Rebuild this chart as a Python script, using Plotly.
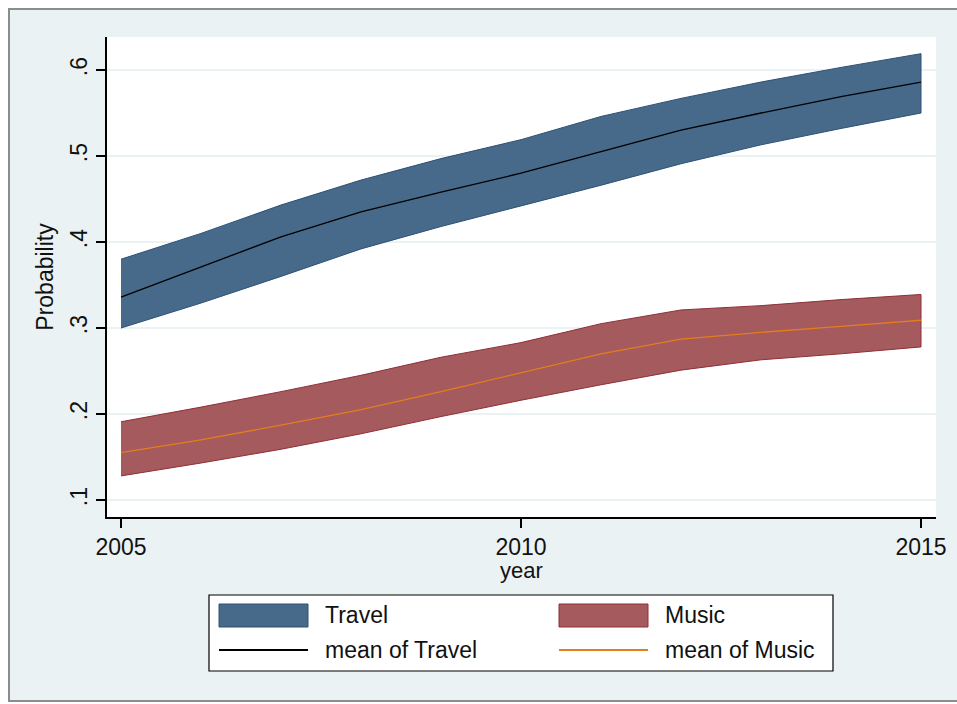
import plotly.graph_objects as go

years = [2005, 2006, 2007, 2008, 2009, 2010, 2011, 2012, 2013, 2014, 2015]

travel_upper = [0.380, 0.410, 0.443, 0.472, 0.497, 0.519, 0.546, 0.567, 0.586, 0.603, 0.619]
travel_mean  = [0.336, 0.371, 0.406, 0.435, 0.458, 0.480, 0.505, 0.530, 0.550, 0.569, 0.586]
travel_lower = [0.300, 0.329, 0.360, 0.392, 0.418, 0.442, 0.466, 0.491, 0.513, 0.532, 0.550]

music_upper = [0.191, 0.208, 0.226, 0.245, 0.266, 0.283, 0.305, 0.321, 0.326, 0.333, 0.339]
music_mean  = [0.155, 0.170, 0.187, 0.205, 0.226, 0.248, 0.270, 0.287, 0.295, 0.302, 0.309]
music_lower = [0.128, 0.143, 0.159, 0.177, 0.197, 0.216, 0.234, 0.251, 0.263, 0.270, 0.278]

y_tickvals = [0.1, 0.2, 0.3, 0.4, 0.5, 0.6]
y_ticktext = [".1", ".2", ".3", ".4", ".5", ".6"]
x_tickvals = [2005, 2010, 2015]

series_names = ["Travel", "Music", "mean of Travel", "mean of Music"]
x_title = "year"
y_title = "Probability"

TRAVEL_FILL = "#486A8A"
TRAVEL_EDGE = "#2C5074"
MUSIC_FILL = "#A55A5E"
MUSIC_EDGE = "#8E2F38"
TRAVEL_LINE = "#000000"
MUSIC_LINE = "#E47D1C"
BG = "#EAF2F3"
FONT = "Liberation Sans, Arial, sans-serif"

fig = go.Figure()

fig.add_trace(go.Scatter(
    x=years + years[::-1], y=travel_upper + travel_lower[::-1],
    fill="toself", fillcolor=TRAVEL_FILL, mode="lines",
    line=dict(color=TRAVEL_EDGE, width=1), name=series_names[0],
    showlegend=False, hoverinfo="skip"))
fig.add_trace(go.Scatter(
    x=years + years[::-1], y=music_upper + music_lower[::-1],
    fill="toself", fillcolor=MUSIC_FILL, mode="lines",
    line=dict(color=MUSIC_EDGE, width=1), name=series_names[1],
    showlegend=False, hoverinfo="skip"))
fig.add_trace(go.Scatter(
    x=years, y=travel_mean, mode="lines", name=series_names[2],
    line=dict(color=TRAVEL_LINE, width=1.3), showlegend=False))
fig.add_trace(go.Scatter(
    x=years, y=music_mean, mode="lines", name=series_names[3],
    line=dict(color=MUSIC_LINE, width=1.3), showlegend=False))

# plot-area pixel geometry
W, H = 957, 704
L, R, T, B = 107, 936, 37, 517
pw, ph = R - L, B - T

def px(x):
    return (x - L) / pw

def py(y):
    return (B - y) / ph

shapes = []
annotations = []

# outer frame (white margin outside a grey border)
shapes.append(dict(type="rect", xref="paper", yref="paper", x0=px(-2), x1=px(8), y0=py(-2), y1=py(706),
                   fillcolor="white", line=dict(width=0), layer="above"))
shapes.append(dict(type="rect", xref="paper", yref="paper", x0=px(-2), x1=px(962), y0=py(-2), y1=py(8),
                   fillcolor="white", line=dict(width=0), layer="above"))
shapes.append(dict(type="rect", xref="paper", yref="paper", x0=px(-2), x1=px(962), y0=py(702), y1=py(706),
                   fillcolor="white", line=dict(width=0), layer="above"))
shapes.append(dict(type="rect", xref="paper", yref="paper", x0=px(9), x1=px(966), y0=py(701), y1=py(9),
                   fillcolor="rgba(0,0,0,0)", line=dict(color="#8C8C8C", width=2), layer="above"))

# legend box
shapes.append(dict(type="rect", xref="paper", yref="paper", x0=px(209), x1=px(833), y0=py(671), y1=py(595),
                   fillcolor="white", line=dict(color="black", width=1.2), layer="above"))
legend_items = [
    (series_names[0], "box", TRAVEL_FILL, TRAVEL_EDGE, 219, 615),
    (series_names[1], "box", MUSIC_FILL, MUSIC_EDGE, 559, 615),
    (series_names[2], "line", TRAVEL_LINE, None, 219, 650),
    (series_names[3], "line", MUSIC_LINE, None, 559, 650),
]
for name, kind, col, edge, x0, yc in legend_items:
    if kind == "box":
        shapes.append(dict(type="rect", xref="paper", yref="paper", x0=px(x0), x1=px(x0 + 89),
                           y0=py(yc + 12), y1=py(yc - 11), fillcolor=col,
                           line=dict(color=edge, width=1), layer="above"))
    else:
        shapes.append(dict(type="line", xref="paper", yref="paper", x0=px(x0), x1=px(x0 + 89),
                           y0=py(yc), y1=py(yc), line=dict(color=col, width=2), layer="above"))
    annotations.append(dict(text=name, xref="paper", yref="paper", x=px(x0 + 104), y=py(yc),
                            xanchor="left", yanchor="middle", showarrow=False,
                            font=dict(family=FONT, size=23, color="#111111")))

# x-axis title placed just below the tick labels
annotations.append(dict(text=x_title, xref="paper", yref="paper", x=0.5, y=py(556),
                        xanchor="center", yanchor="top", showarrow=False,
                        font=dict(family=FONT, size=22, color="#111111")))

fig.update_layout(
    width=W, height=H,
    margin=dict(l=L, r=W - R, t=T, b=H - B, pad=0),
    paper_bgcolor=BG, plot_bgcolor="white",
    font=dict(family=FONT, size=23, color="#111111"),
    showlegend=False,
    shapes=shapes, annotations=annotations,
    xaxis=dict(
        range=[2005 - 14 / 80, 2015 + 15 / 80],
        tickvals=x_tickvals, ticktext=[str(v) for v in x_tickvals],
        ticks="outside", ticklen=9, tickwidth=1.5, tickcolor="black",
        showline=True, linecolor="black", linewidth=1.5,
        showgrid=False, zeroline=False, automargin=False,
        tickfont=dict(size=23),
    ),
    yaxis=dict(
        range=[0.1 - 17 / 860, 0.1 + 463 / 860],
        tickvals=y_tickvals, ticktext=y_ticktext, tickangle=-90,
        ticks="outside", ticklen=9, tickwidth=1.5, tickcolor="black",
        showline=True, linecolor="black", linewidth=1.5,
        showgrid=True, gridcolor=BG, gridwidth=1.5, zeroline=False, automargin=False,
        tickfont=dict(size=23),
        title=dict(text=y_title, font=dict(size=23), standoff=6),
    ),
)

fig.write_html("out.html")
